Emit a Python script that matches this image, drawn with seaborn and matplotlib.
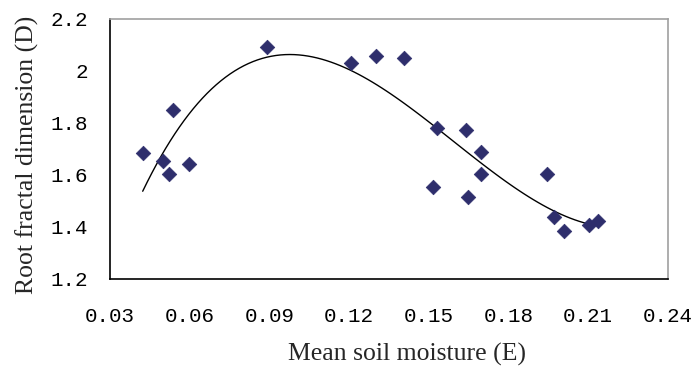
import matplotlib
matplotlib.use("Agg")
import matplotlib.pyplot as plt
import seaborn as sns
import pandas as pd

# Mean soil moisture (E) and root fractal dimension (D)
moisture = [0.0423, 0.0498, 0.0522, 0.0537, 0.0596, 0.0892,
            0.1207, 0.1300, 0.1405, 0.1530, 0.1517, 0.1639,
            0.1646, 0.1698, 0.1697, 0.1946, 0.1971, 0.2009,
            0.2103, 0.2136]
fractal_dim = [1.686, 1.654, 1.603, 1.850, 1.641, 2.090,
               2.030, 2.059, 2.051, 1.782, 1.555, 1.773,
               1.517, 1.687, 1.603, 1.603, 1.437, 1.386,
               1.408, 1.424]

x_ticks = [0.03, 0.06, 0.09, 0.12, 0.15, 0.18, 0.21, 0.24]
y_ticks = [1.2, 1.4, 1.6, 1.8, 2.0, 2.2]
y_tick_labels = ["1.2", "1.4", "1.6", "1.8", "2", "2.2"]

df = pd.DataFrame({"E": moisture, "D": fractal_dim})

sns.set_style("white")
plt.rcParams["font.family"] = ["Liberation Serif", "DejaVu Serif"]

fig = plt.figure(figsize=(6.92, 3.70), dpi=100)
ax = fig.add_axes([0.159, 0.246, 0.806, 0.703])

# polynomial trendline (3rd order), like the spreadsheet one
sns.regplot(data=df, x="E", y="D", order=3, ci=None, scatter=False,
            line_kws={"color": "black", "linewidth": 1.0}, ax=ax)
sns.scatterplot(data=df, x="E", y="D", marker="D", s=55, color="#2E2E6C",
                edgecolor="#2E2E6C", linewidth=0.5, ax=ax, zorder=3)

ax.set_xlim(0.03, 0.24)
ax.set_ylim(1.2, 2.2)
ax.set_xticks(x_ticks)
ax.set_xticklabels([f"{t:.2f}" for t in x_ticks])
ax.set_yticks(y_ticks)
ax.set_yticklabels(y_tick_labels)
ax.tick_params(direction="in", length=5, width=1, colors="black")
ax.tick_params(axis="x", pad=20)
ax.tick_params(axis="y", pad=16)
for lab in ax.get_xticklabels() + ax.get_yticklabels():
    lab.set_family(["Liberation Mono", "DejaVu Sans Mono"])
    lab.set_fontsize(15)

for side in ["left", "bottom"]:
    ax.spines[side].set_color("black")
    ax.spines[side].set_linewidth(1.2)
for side in ["top", "right"]:
    ax.spines[side].set_color("#A0A0A0")
    ax.spines[side].set_linewidth(1.2)

ax.set_xlabel("Mean soil moisture (E)", fontsize=18.5)
ax.set_ylabel("Root fractal dimension (D)", fontsize=18.5)
ax.xaxis.set_label_coords(0.532, -0.245)
ax.yaxis.set_label_coords(-0.128, 0.477)

fig.savefig("out.png", dpi=100, facecolor="white")
